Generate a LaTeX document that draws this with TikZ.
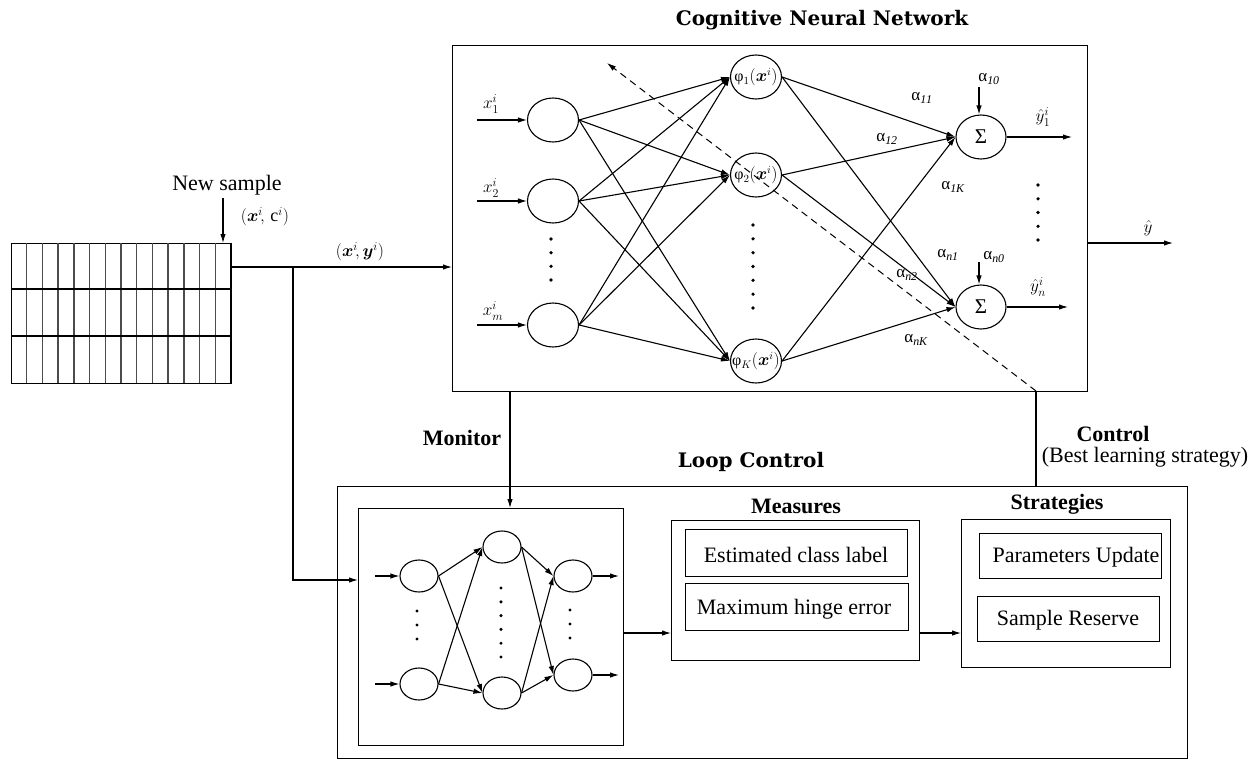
\documentclass[tikz,border=0pt]{standalone}
\usepackage{fontspec}
\setmainfont{Liberation Serif}
\newfontfamily\headfont{DejaVu Serif}
\usepackage{bm}
\usetikzlibrary{shapes.geometric,arrows.meta}

\begin{document}
\begin{tikzpicture}[x=1pt,y=-1pt,line width=1.1pt,
  tip/.style={-{Latex[length=9pt,width=5.5pt]}},
  neuron/.style={draw,ellipse,minimum width=51pt,minimum height=44pt,inner sep=0pt},
  mini/.style={draw,ellipse,minimum width=38pt,minimum height=32pt,inner sep=0pt},
  panel/.style={draw,anchor=north west,inner sep=0pt},
  txt/.style={font=\fontsize{22}{24}\selectfont,inner sep=0pt},
  btxt/.style={font=\fontsize{22}{24}\selectfont\bfseries,inner sep=0pt},
  head/.style={font=\headfont\fontsize{20}{22}\selectfont\bfseries,inner sep=0pt},
  mlab/.style={font=\fontsize{16}{18}\selectfont,inner sep=0pt},
  xlab/.style={font=\fontsize{18}{20}\selectfont,inner sep=0pt},
  wlab/.style={font=\fontsize{17}{18}\selectfont,inner sep=0pt}]
\useasboundingbox (0,0) rectangle (1255,760);

% ---------- sample buffer ----------
\node[panel,minimum width=220pt,minimum height=140pt] (grid) at (11,243) {};
\foreach \i in {1,...,13}
  \draw[line width=1.4pt,black!70] ({11+\i*220/14},243) -- ({11+\i*220/14},383);
\draw (11,289) -- (231,289);
\draw (11,336) -- (231,336);
\draw[line width=1.6pt] (231,243) -- (231,383);
\node[txt] (newsample) at (227,185) {New sample};
\coordinate (gin) at (223,243);
\draw[tip] (223,198) -- (gin);
\node[xlab] (xc) at (265,217) {$(\bm{x}^i\!,\,\mathrm{c}^i)$};
\coordinate (gout) at (231,267);
\coordinate (split) at (293,267);

% ---------- cognitive neural network ----------
\node[panel,minimum width=635pt,minimum height=346pt] (cnn) at (452,45) {};
\node[head] (title) at (822,20) {Cognitive Neural Network};

\node[neuron] (I1) at (553,120) {};
\node[neuron] (I2) at (553,201) {};
\node[neuron] (Im) at (553,325) {};
\foreach \n/\y in {I1/120,I2/201,Im/325}
  \draw[tip] (477,\y) -- (\n.west);
\node[xlab] (lx1) at (491,104) {$x^i_1$};
\node[xlab] (lx2) at (491,188) {$x^i_2$};
\node[xlab] (lxm) at (493,311) {$x^i_m$};
\foreach \y in {239,252.7,266.3,280} \fill (551,\y) circle (1.8pt);

\node[neuron] (H1) at (756,77) {};
\node[neuron] (H2) at (756,175) {};
\node[neuron] (HK) at (756,361) {};
\node[mlab] at (H1) {φ$_1(\bm{x}^i)$};
\node[mlab] at (H2) {φ$_2(\bm{x}^i)$};
\node[mlab] at (HK) {φ$_K(\bm{x}^i)$};
\foreach \y in {225,238.8,252.7,266.5,280.3,294.2,308} \fill (753,\y) circle (1.8pt);

\foreach \a in {I1,I2,Im}
  \foreach \b in {H1,H2,HK}
    \draw[tip] (\a.east) -- (\b.west);

\node[neuron,minimum width=50pt] (O1) at (981,137) {};
\node[neuron,minimum width=50pt] (On) at (981,307) {};
\node[font=\fontsize{21}{22}\selectfont,inner sep=0pt] at (O1) {Σ};
\node[font=\fontsize{21}{22}\selectfont,inner sep=0pt] at (On) {Σ};
\foreach \a in {H1,H2,HK}
  \foreach \b in {O1,On}
    \draw[tip] (\a.east) -- (\b.west);

\coordinate (b10) at (979,87);
\coordinate (bn0) at (979,262);
\draw[tip] (b10) -- (b10 |- O1.north);
\draw[tip] (bn0) -- (bn0 |- On.north);
\node[wlab] (a10) at (989,79) {α$_{\mathit{10}}$};
\node[wlab] (an0) at (994,257) {α$_{\mathit{n0}}$};
\node[wlab] (a11) at (922,98) {α$_{\mathit{11}}$};
\node[wlab] (a12) at (887,139) {α$_{\mathit{12}}$};
\node[wlab] (a1K) at (953,187) {α$_{\mathit{1K}}$};
\node[wlab] (an1) at (948,255) {α$_{\mathit{n1}}$};
\node[wlab] (an2) at (907,275) {α$_{\mathit{n2}}$};
\node[wlab] (anK) at (916,340) {α$_{\mathit{nK}}$};

\coordinate (y1end) at (1072,137);
\coordinate (ynend) at (1068,307);
\draw[tip] (O1.east) -- (y1end);
\draw[tip] (On.east) -- (ynend);
\node[xlab] (ly1) at (1043,117) {$\hat{y}^i_1$};
\node[xlab] (lyn) at (1038,287) {$\hat{y}^i_n$};
\foreach \y in {185,198.8,212.5,226.3,240} \fill (1038,\y) circle (1.8pt);

\coordinate (cnnout) at (1087,243);
\coordinate (yend) at (1173,243);
\draw[tip] (cnnout) -- (yend);
\node[xlab] (lyhat) at (1148,228) {$\hat{y}$};

% feed from the buffer
\draw[tip] (gout) -- (cnn.west |- gout);
\node[xlab] (xy) at (360,252) {$(\bm{x}^i\!,\bm{y}^i)$};

% ---------- loop control ----------
\node[panel,minimum width=850pt,minimum height=272pt] (loop) at (337,486) {};
\node[head] (looptitle) at (751,462) {Loop Control};

\node[panel,minimum width=265pt,minimum height=237pt] (mnet) at (358,508) {};
\node[mini] (L1) at (419,576) {};
\node[mini] (L2) at (419,684) {};
\node[mini] (M1) at (502,547) {};
\node[mini] (M2) at (502,693) {};
\node[mini] (R1) at (573,576) {};
\node[mini] (R2) at (573,675) {};
\foreach \n in {L1,L2} \draw[tip] (375,0 |- \n.west) -- (\n.west);
\foreach \n in {R1,R2} \draw[tip] (\n.east) -- (619,0 |- \n.east);
\foreach \a in {L1,L2} \foreach \b in {M1,M2} \draw[tip] (\a.east) -- (\b.west);
\foreach \a in {M1,M2} \foreach \b in {R1,R2} \draw[tip] (\a.east) -- (\b.west);
\foreach \y in {611,625,639} \fill (417,\y) circle (1.7pt);
\foreach \y in {588,601.8,615.6,629.4,643.2,657} \fill (501,\y) circle (1.7pt);
\foreach \y in {610,624,638} \fill (570,\y) circle (1.7pt);

\node[panel,minimum width=248pt,minimum height=140pt] (meas) at (671,520) {};
\node[btxt] (meast) at (796,506) {Measures};
\node[panel,minimum width=222pt,minimum height=47pt] (est) at (685,529) {};
\node[txt] at (796,555) {Estimated class label};
\node[panel,minimum width=223pt,minimum height=47pt] (maxe) at (685,583) {};
\node[txt] at (794,609) {Maximum hinge error};

\node[panel,minimum width=209pt,minimum height=148pt] (strat) at (961,519) {};
\node[btxt] (stratt) at (1057,504) {Strategies};
\node[panel,minimum width=182pt,minimum height=45pt] (param) at (979,533) {};
\node[txt] at (1076,557) {Parameters Update};
\node[panel,minimum width=182pt,minimum height=45pt] (reserve) at (977,596) {};
\node[txt] at (1068,620) {Sample Reserve};

\coordinate (mnetout) at (623,633);
\draw[tip] (mnetout) -- (meas.west |- mnetout);
\coordinate (measout) at (919,633);
\draw[tip] (measout) -- (strat.west |- measout);

% monitor and control paths
\coordinate (mon) at (510,391);
\draw[tip] (mon) -- (mon |- mnet.north);
\node[btxt] (monlab) at (462,438) {Monitor};

\coordinate (ctl) at (1036,391);
\coordinate (dtip) at (607,63);
\draw[tip,dashed,dash pattern=on 7pt off 5pt,line width=1pt] (ctl) -- (dtip);
\draw (ctl) -- (ctl |- loop.north);
\node[btxt] (ctllab) at (1113,434) {Control};
\node[txt] (ctlsub) at (1145,457) {(Best learning strategy)};

% buffer feed into the monitor network
\coordinate (turn) at (293,580);
\draw[tip] (split) -- (turn) -- (mnet.west |- turn);
\end{tikzpicture}
\end{document}
